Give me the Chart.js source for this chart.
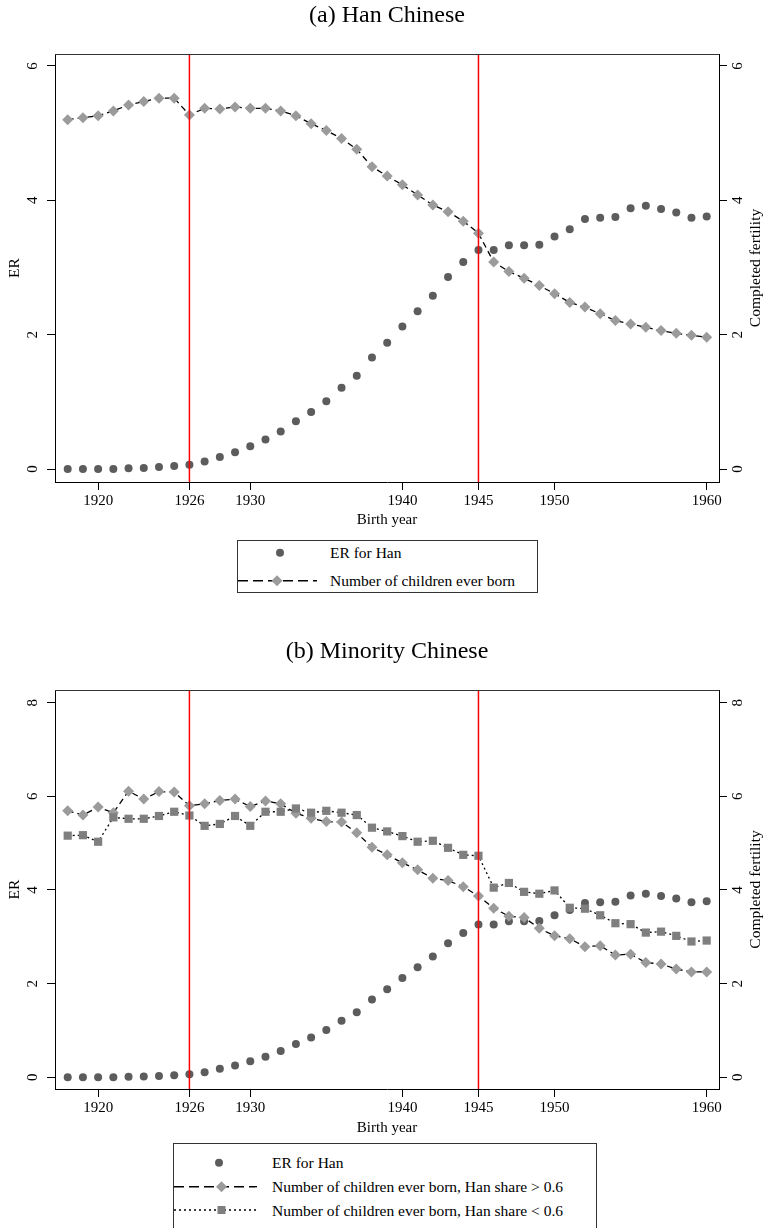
<!DOCTYPE html>
<html>
<head>
<meta charset="utf-8">
<script src="https://cdn.jsdelivr.net/npm/chart.js@4.4.1/dist/chart.umd.min.js"></script>
<style>
  body { margin: 0; background: #fff; width: 764px; height: 1228px; overflow: hidden; position: relative; }
  canvas { position: absolute; left: 0; }
  svg { position: absolute; }
  svg text { font-family: "Liberation Serif", "Times New Roman", serif; font-size: 15.5px; fill: #000; dominant-baseline: central; }
</style>
</head>
<body>
<canvas id="chartA" width="764" height="530" style="top:0"></canvas>
<canvas id="chartB" width="764" height="520" style="top:620px"></canvas>

<!-- legend (a) -->
<svg style="left:237px;top:540px" width="302" height="54">
  <rect x="0.5" y="0.5" width="300" height="52" fill="#fff" stroke="#333" stroke-width="1"/>
  <circle cx="43" cy="12.7" r="4" fill="#5c5c5c"/>
  <text x="93" y="12.7">ER for Han</text>
  <line x1="1" y1="40.7" x2="80" y2="40.7" stroke="#000" stroke-width="1.4" stroke-dasharray="10 5"/>
  <polygon points="40,35.2 45.5,40.7 40,46.2 34.5,40.7" fill="#9b9b9b"/>
  <text x="93" y="40.7">Number of children ever born</text>
</svg>

<!-- legend (b) -->
<svg style="left:173px;top:1143px" width="425" height="90">
  <rect x="0.5" y="0.5" width="423" height="120" fill="#fff" stroke="#333" stroke-width="1"/>
  <circle cx="46" cy="19.7" r="4" fill="#5c5c5c"/>
  <text x="99" y="19.7">ER for Han</text>
  <line x1="1" y1="43.7" x2="84" y2="43.7" stroke="#000" stroke-width="1.4" stroke-dasharray="10 5"/>
  <polygon points="48.5,38.2 54,43.7 48.5,49.2 43,43.7" fill="#9b9b9b"/>
  <text x="99" y="43.7">Number of children ever born, Han share &gt; 0.6</text>
  <line x1="1" y1="67" x2="84" y2="67" stroke="#000" stroke-width="1.4" stroke-dasharray="2 3"/>
  <rect x="44.5" y="63" width="8" height="8" fill="#7f7f7f"/>
  <text x="99" y="67">Number of children ever born, Han share &lt; 0.6</text>
</svg>

<script>
// --- data ---
const years = [1918, 1919, 1920, 1921, 1922, 1923, 1924, 1925, 1926, 1927,
               1928, 1929, 1930, 1931, 1932, 1933, 1934, 1935, 1936, 1937,
               1938, 1939, 1940, 1941, 1942, 1943, 1944, 1945, 1946, 1947,
               1948, 1949, 1950, 1951, 1952, 1953, 1954, 1955, 1956, 1957,
               1958, 1959, 1960];

// ER for Han (same series in both panels)
const erHan = [0, 0, 0, 0, 0.01, 0.015, 0.03, 0.045, 0.065, 0.11,
               0.18, 0.25, 0.34, 0.44, 0.56, 0.71, 0.85, 1.01, 1.21, 1.39,
               1.66, 1.88, 2.12, 2.35, 2.58, 2.86, 3.08, 3.26, 3.26, 3.33,
               3.33, 3.34, 3.46, 3.57, 3.72, 3.74, 3.75, 3.88, 3.92, 3.87,
               3.82, 3.74, 3.76];

// (a) number of children ever born, Han
const childrenHan = [5.20, 5.23, 5.26, 5.33, 5.42, 5.47, 5.52, 5.52, 5.27, 5.37,
                     5.36, 5.39, 5.37, 5.37, 5.33, 5.26, 5.14, 5.04, 4.92, 4.76,
                     4.50, 4.36, 4.23, 4.08, 3.93, 3.83, 3.69, 3.51, 3.08, 2.94,
                     2.84, 2.73, 2.61, 2.48, 2.41, 2.31, 2.21, 2.16, 2.11, 2.06,
                     2.02, 1.99, 1.96];

// (b) minority, Han share > 0.6
const childrenHigh = [5.69, 5.60, 5.77, 5.65, 6.11, 5.94, 6.10, 6.09, 5.80, 5.84,
                      5.91, 5.94, 5.78, 5.90, 5.84, 5.64, 5.53, 5.46, 5.45, 5.22,
                      4.91, 4.75, 4.58, 4.43, 4.25, 4.20, 4.07, 3.87, 3.61, 3.44,
                      3.41, 3.18, 3.02, 2.96, 2.79, 2.81, 2.61, 2.63, 2.45, 2.42,
                      2.31, 2.25, 2.25];

// (b) minority, Han share < 0.6
const childrenLow = [5.16, 5.17, 5.03, 5.55, 5.52, 5.52, 5.58, 5.67, 5.59, 5.37,
                     5.41, 5.58, 5.37, 5.67, 5.67, 5.74, 5.65, 5.69, 5.65, 5.60,
                     5.33, 5.25, 5.15, 5.03, 5.05, 4.90, 4.75, 4.73, 4.05, 4.15,
                     3.96, 3.92, 3.99, 3.62, 3.60, 3.46, 3.29, 3.27, 3.09, 3.11,
                     3.02, 2.90, 2.92];

const xTicks = [1920, 1926, 1930, 1940, 1945, 1950, 1960];
const cutoffYears = [1926, 1945];
const yTicksA = [0, 2, 4, 6];
const yTicksB = [0, 2, 4, 6, 8];

const serif = '"Liberation Serif", "Times New Roman", serif';
const pts = vals => years.map((yr, i) => ({ x: yr, y: vals[i] }));

function setTicks(list) {
    return scale => { scale.ticks = list.map(v => ({ value: v })); };
}

// red cut-off lines, top frame line and all axis text
function decor(title, titleY, xLabelY, xTitleY) {
    return {
        id: 'decor',
        afterDatasetsDraw(chart) {
            const { ctx, chartArea: a, scales } = chart;
            ctx.save();
            ctx.strokeStyle = '#ff0000';
            ctx.lineWidth = 1.5;
            cutoffYears.forEach(yr => {
                const px = scales.x.getPixelForValue(yr);
                ctx.beginPath();
                ctx.moveTo(px, a.top);
                ctx.lineTo(px, a.bottom);
                ctx.stroke();
            });
            ctx.restore();
        },
        afterDraw(chart) {
            const { ctx, chartArea: a, scales } = chart;
            ctx.save();
            ctx.strokeStyle = '#333';
            ctx.lineWidth = 1;
            ctx.beginPath();
            ctx.moveTo(a.left, Math.round(a.top) + 0.5);
            ctx.lineTo(a.right, Math.round(a.top) + 0.5);
            ctx.stroke();

            ctx.fillStyle = '#000';
            ctx.textAlign = 'center';
            ctx.textBaseline = 'middle';
            const midX = (a.left + a.right) / 2;
            const midY = (a.top + a.bottom) / 2;

            ctx.font = '24px ' + serif;
            ctx.fillText(title, midX, titleY);

            ctx.font = '15px ' + serif;
            scales.x.ticks.forEach(t => {
                ctx.fillText(String(t.value), scales.x.getPixelForValue(t.value), xLabelY);
            });
            ctx.fillText('Birth year', midX, xTitleY);

            const rot = (txt, x, y) => {
                ctx.save();
                ctx.translate(x, y);
                ctx.rotate(-Math.PI / 2);
                ctx.fillText(txt, 0, 0);
                ctx.restore();
            };
            [['y', 33], ['y2', 738]].forEach(([id, px]) => {
                const s = scales[id];
                s.ticks.forEach(t => rot(String(t.value), px, s.getPixelForValue(t.value)));
            });
            ctx.font = '15.5px ' + serif;
            rot('ER', 15, midY);
            rot('Completed fertility', 756, midY);
            ctx.restore();
        }
    };
}

function yAxis(pos, min, max, ticks, width) {
    return {
        type: 'linear', position: pos, min: min, max: max,
        afterBuildTicks: setTicks(ticks),
        afterFit: s => { s.width = width; },
        ticks: { display: false },
        grid: { drawOnChartArea: false, drawTicks: true, tickLength: 8, color: '#000', lineWidth: 1 },
        border: { display: true, color: '#000', width: 1 }
    };
}

function makeChart(id, datasets, yMin, yMax, yTicks, padTop, xHeight, text) {
    return new Chart(document.getElementById(id), {
        type: 'scatter',
        data: { datasets: datasets },
        options: {
            responsive: false,
            animation: false,
            devicePixelRatio: 1,
            layout: { autoPadding: false, padding: { top: padTop, left: 0, right: 0, bottom: 0 } },
            plugins: { legend: { display: false }, tooltip: { enabled: false }, title: { display: false } },
            scales: {
                x: {
                    type: 'linear', min: 1917.165, max: 1960.81,
                    afterBuildTicks: setTicks(xTicks),
                    afterFit: s => { s.height = xHeight; },
                    ticks: { display: false },
                    grid: { drawOnChartArea: false, drawTicks: true, tickLength: 8, color: '#000', lineWidth: 1 },
                    border: { display: true, color: '#000', width: 1 }
                },
                y: yAxis('left', yMin, yMax, yTicks, 55),
                y2: yAxis('right', yMin, yMax, yTicks, 45)
            }
        },
        plugins: [decor(text[0], text[1], text[2], text[3])]
    });
}

const erSet = () => ({
    label: 'ER for Han', data: pts(erHan), yAxisID: 'y', order: 3,
    showLine: false, pointStyle: 'circle', pointRadius: 4,
    pointBackgroundColor: '#5c5c5c', pointBorderWidth: 0
});

const diamondSet = (label, vals) => ({
    label: label, data: pts(vals), yAxisID: 'y2', order: 2,
    showLine: true, borderColor: '#000', borderWidth: 1.3, borderDash: [6, 4],
    pointStyle: 'rectRot', pointRadius: 5.5,
    pointBackgroundColor: '#9b9b9b', pointBorderWidth: 0
});

makeChart('chartA', [
    erSet(),
    diamondSet('Number of children ever born', childrenHan)
], -0.1935, 6.178, yTicksA, 54, 48, ['(a) Han Chinese', 16, 501, 520]);

makeChart('chartB', [
    erSet(),
    diamondSet('Number of children ever born, Han share > 0.6', childrenHigh),
    {
        label: 'Number of children ever born, Han share < 0.6', data: pts(childrenLow), yAxisID: 'y2', order: 1,
        showLine: true, borderColor: '#000', borderWidth: 1.3, borderDash: [2, 3],
        pointStyle: 'rect', pointRadius: 5.8,
        pointBackgroundColor: '#7f7f7f', pointBorderWidth: 0
    }
], -0.25, 8.27, yTicksB, 70, 51, ['(b) Minority Chinese', 32, 488, 508]);
</script>
</body>
</html>
